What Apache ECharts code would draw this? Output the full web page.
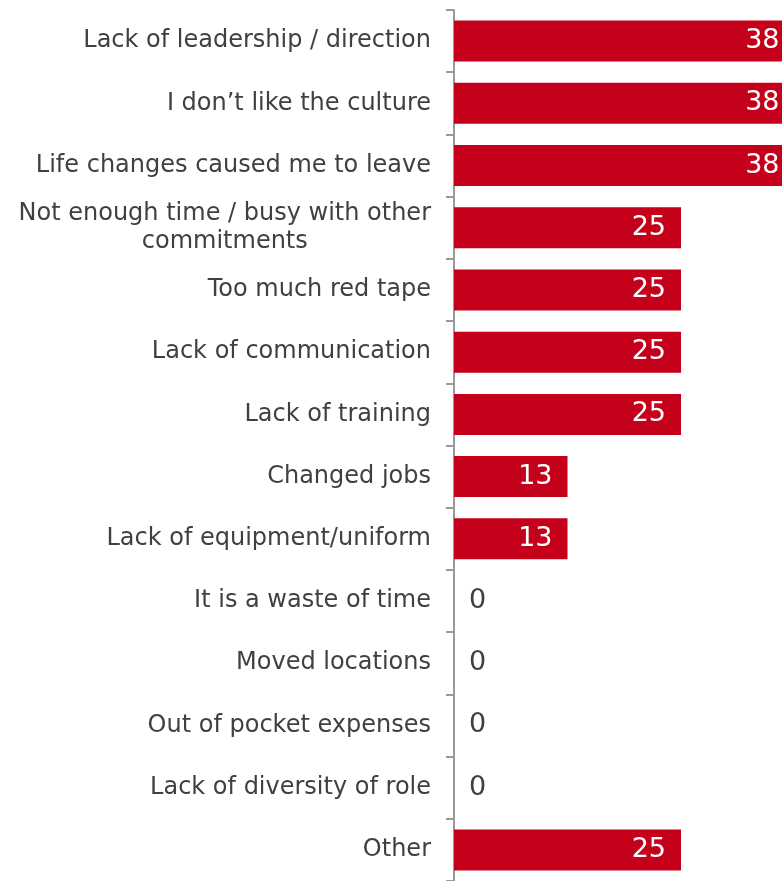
<!DOCTYPE html>
<html>
<head>
<meta charset="utf-8">
<script src="https://cdn.jsdelivr.net/npm/echarts@6/dist/echarts.min.js"></script>
<style>
html,body{margin:0;padding:0;background:#fff;}
#chart{width:782px;height:881px;}
</style>
</head>
<body>
<div id="chart"></div>
<script>
const categories = [
  'Lack of leadership / direction',
  'I don\u2019t like the culture',
  'Life changes caused me to leave',
  'Not enough time / busy with other\ncommitments',
  'Too much red tape',
  'Lack of communication',
  'Lack of training',
  'Changed jobs',
  'Lack of equipment/uniform',
  'It is a waste of time',
  'Moved locations',
  'Out of pocket expenses',
  'Lack of diversity of role',
  'Other'
];
const values = [37.5, 37.5, 37.5, 25, 25, 25, 25, 12.5, 12.5, 0, 0, 0, 0, 25];

const seriesData = values.map(v => v === 0
  ? { value: v, label: { position: 'right', distance: 15, color: '#404040' } }
  : { value: v });

const chart = echarts.init(document.getElementById('chart'));
chart.setOption({
  animation: false,
  grid: { left: 454, right: 0, top: 10, bottom: -3, containLabel: false },
  xAxis: { type: 'value', min: 0, max: 36.12, show: false },
  yAxis: {
    type: 'category',
    data: categories,
    inverse: true,
    axisLine: { show: true, lineStyle: { color: '#999999', width: 2 } },
    axisTick: { show: true, length: 8, lineStyle: { color: '#999999', width: 2 } },
    axisLabel: {
      margin: 23,
      color: '#404040',
      fontFamily: 'DejaVu Sans',
      fontSize: 24,
      lineHeight: 28,
      formatter: function (v) {
        return v.split('\n').map(s => '{c|' + s + '}').join('\n');
      },
      rich: {
        c: { align: 'center', fontFamily: 'DejaVu Sans', fontSize: 24, color: '#404040', lineHeight: 28 }
      }
    }
  },
  series: [{
    type: 'bar',
    data: seriesData,
    barWidth: 41,
    clip: false,
    itemStyle: { color: '#C5001A' },
    label: {
      show: true,
      position: 'insideRight',
      distance: 15,
      color: '#ffffff',
      fontFamily: 'DejaVu Sans',
      fontSize: 27,
      formatter: p => String(Math.round(p.value))
    }
  }]
});
</script>
</body>
</html>
